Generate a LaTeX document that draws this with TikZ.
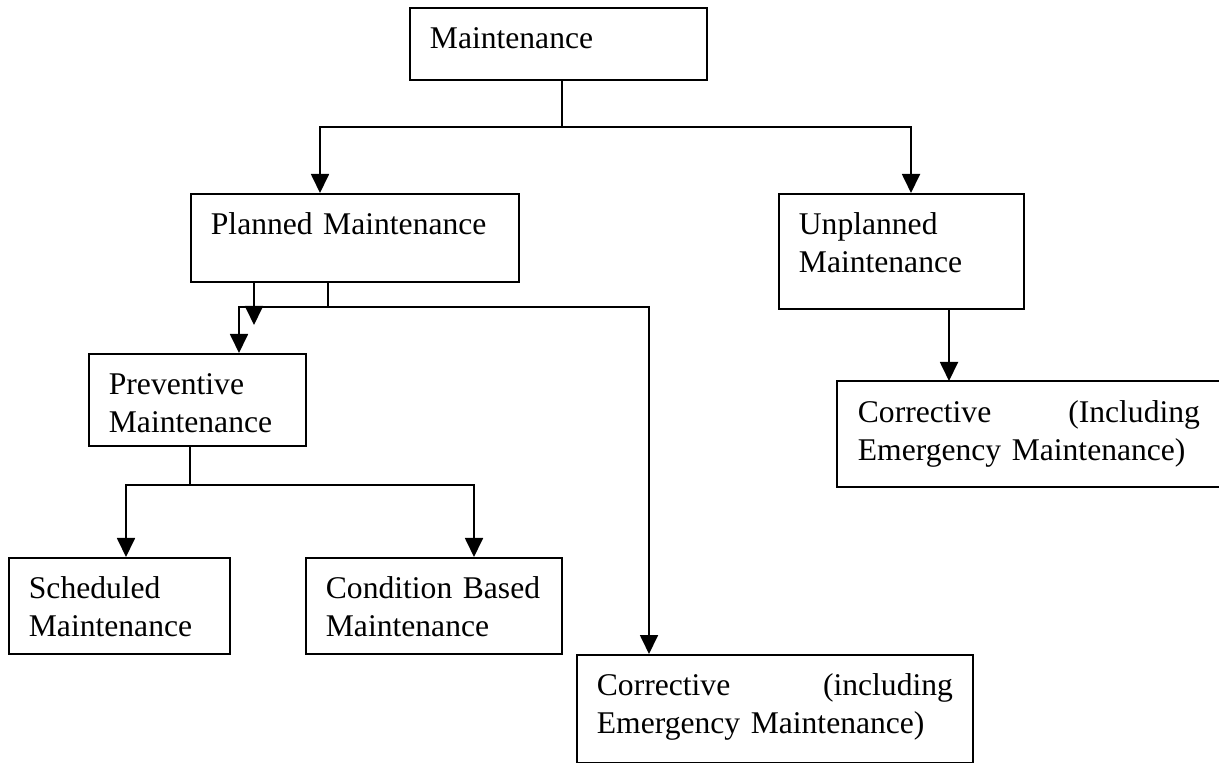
\documentclass[tikz,border=0pt]{standalone}
\usepackage{fontspec}
\setmainfont{Liberation Serif}
\usetikzlibrary{arrows.meta}

\tikzset{
  mbox/.style={draw, line width=0.9pt, anchor=north west,
    inner xsep=10pt, inner ysep=0pt, align=left, text height=20.5pt,
    font=\fontsize{15.8pt}{19pt}\selectfont},
  link/.style={line width=0.9pt},
  arr/.style={link, -{Triangle[width=9pt,length=9.5pt]}},
  fork/.style={link, {Triangle[width=9pt,length=9.5pt]}-{Triangle[width=9pt,length=9.5pt]}}
}

\begin{document}
\begin{tikzpicture}[x=0.5pt,y=-0.5pt]
  \useasboundingbox (0,0) rectangle (1219,763);

  % boxes
  \node[mbox, text width=128.5pt, text depth=15.5pt] (main) at (409,7) {Maintenance};
  \node[mbox, text width=144pt, text depth=23.5pt] (planned) at (190,193) {Planned Maintenance};
  \node[mbox, text width=102.5pt, text depth=37pt] (unplanned) at (778,193) {Unplanned\\Maintenance};
  \node[mbox, text width=88.5pt, text depth=25.5pt] (prevent) at (88,353) {Preventive\\Maintenance};
  \node[mbox, text width=90.5pt, text depth=27.5pt] (sched) at (8,557) {Scheduled\\Maintenance};
  \node[mbox, text width=108pt, text depth=27.5pt] (cond) at (305,557) {Condition Based\\Maintenance};
  \node[mbox, text width=178pt, text depth=33.5pt] (corrL) at (576,654)
    {Corrective \hfill (including\\Emergency Maintenance)};
  \node[mbox, draw=none, text width=171pt, text depth=31.5pt] (corrR) at (837,381)
    {Corrective \hfill (Including\\Emergency Maintenance)};
  \draw[link] (corrR.north east) -- (corrR.north west) -- (corrR.south west) -- (corrR.south east);

  % junctions
  \coordinate (top) at (562,127);
  \coordinate (topL) at (320,127);
  \coordinate (topR) at (911,127);
  \coordinate (pj) at (328,307);
  \coordinate (pjL) at (239,307);
  \coordinate (pjR) at (649,307);
  \coordinate (ptip) at (254,325);
  \coordinate (sj) at (190,485);
  \coordinate (sjL) at (126,485);
  \coordinate (sjR) at (474,485);
  \coordinate (ux) at (949,0);

  % connectors
  \draw[link] (main.south -| top) -- (top);
  \draw[fork] (planned.north -| topL) -- (topL) -- (topR) -- (unplanned.north -| topR);

  \draw[link] (planned.south -| pj) -- (pj);
  \draw[arr] (planned.south -| ptip) -- (ptip);
  \draw[fork] (prevent.north -| pjL) -- (pjL) -- (pjR) -- (corrL.north -| pjR);

  \draw[link] (prevent.south -| sj) -- (sj);
  \draw[fork] (sched.north -| sjL) -- (sjL) -- (sjR) -- (cond.north -| sjR);

  \draw[arr] (unplanned.south -| ux) -- (corrR.north -| ux);
\end{tikzpicture}
\end{document}
